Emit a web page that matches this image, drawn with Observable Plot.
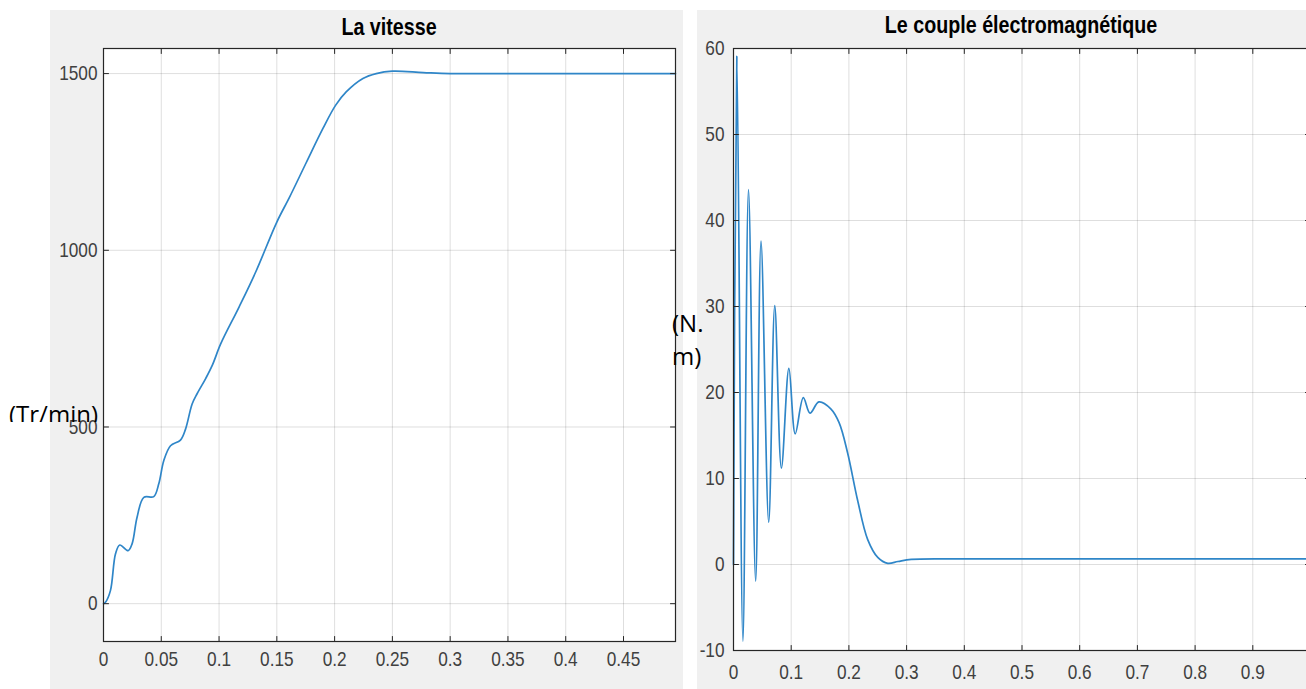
<!DOCTYPE html>
<html>
<head>
<meta charset="utf-8">
<script src="https://cdn.jsdelivr.net/npm/d3@7"></script>
<script src="https://cdn.jsdelivr.net/npm/@observablehq/plot@0.6"></script>
<style>
  html, body { margin: 0; padding: 0; background: #ffffff; overflow: hidden; width: 1306px; height: 689px; }
  .panel { position: absolute; top: 10px; }
  .panel svg { max-width: none !important; }
  .title { position: absolute; font-family: "Liberation Sans", Arial, sans-serif; font-weight: bold; font-size: 24px; color: #000; white-space: nowrap; transform: translateX(-50%) scaleX(0.82); z-index: 3; }
  .ylab { position: absolute; font-family: "Open Sans", "Liberation Sans", sans-serif; font-size: 24px; color: #000; white-space: nowrap; z-index: 4; }
</style>
</head>
<body>
<div id="left" class="panel" style="left:50px;"></div>
<div id="right" class="panel" style="left:697px;"></div>
<div class="title" style="left:389px; top:13px;">La vitesse</div>
<div class="title" style="left:1021px; top:11px;">Le couple électromagnétique</div>
<div class="ylab" style="left:9px; top:397px; height:25px; overflow:hidden; line-height:33px;">(Tr/min)</div>
<div class="ylab" style="left:672px; top:306px; line-height:33px;">(N.<br>m)</div>
<script>
// ---- Data: speed (Tr/min) vs time (s)
const speedT = [0, 0.0017, 0.006, 0.0104, 0.0141, 0.0213, 0.0248, 0.029, 0.0349, 0.0435, 0.0479, 0.0522, 0.058, 0.0666, 0.071, 0.0767, 0.081, 0.0884, 0.0942, 0.1014, 0.1174, 0.1319, 0.15, 0.1608, 0.1753, 0.1898, 0.2008, 0.21, 0.2245, 0.236, 0.25, 0.2767, 0.30, 0.35, 0.40, 0.45, 0.495];
const speed  = [0, 4, 37, 141, 166, 150, 170, 244, 301, 303, 340, 405, 447, 463, 494, 565, 594, 637, 675, 735, 840, 940, 1080, 1149, 1247, 1344, 1410, 1448, 1486, 1500, 1507, 1503, 1500, 1500, 1500, 1500, 1500];

// ---- Data: electromagnetic torque (N.m) vs time (s)
const torqueT = [0, 0.0058, 0.0163, 0.026, 0.0384, 0.0477, 0.061, 0.0715, 0.083, 0.096, 0.107, 0.121, 0.1326, 0.148, 0.1686, 0.183, 0.1977, 0.215, 0.2326, 0.25, 0.2674, 0.285, 0.308, 0.4, 0.6, 0.8, 1.0];
const torque  = [0, 59.1, -8.9, 43.6, -1.95, 37.6, 4.9, 30.1, 11.2, 22.8, 15.2, 19.4, 17.6, 18.9, 18.1, 16.5, 13.0, 7.5, 2.9, 0.83, 0.14, 0.35, 0.6, 0.65, 0.65, 0.65, 0.65];

// ---- Tick labels
const leftXTicks  = [0, 0.05, 0.1, 0.15, 0.2, 0.25, 0.3, 0.35, 0.4, 0.45];
const leftYTicks  = [0, 500, 1000, 1500];
const rightXTicks = [0, 0.1, 0.2, 0.3, 0.4, 0.5, 0.6, 0.7, 0.8, 0.9, 1];
const rightYTicks = [-10, 0, 10, 20, 30, 40, 50, 60];

const speedData  = speedT.map((t, i) => ({t, v: speed[i]}));
const torqueData = torqueT.map((t, i) => ({t, v: torque[i]}));

const tickShape = {draw(ctx, l) { ctx.moveTo(0, 0); ctx.lineTo(0, -l); }};
const fmt = d => String(d);
const frameColor = "#262626";
const lineColor = "#2f86c8";

function inwardTicks(xt, yt) {
  const o = {length: 5, anchor: "start", shape: tickShape, stroke: frameColor, strokeWidth: 1};
  return [
    Plot.vector(xt, {x: d => d, frameAnchor: "bottom", rotate: 0, ...o}),
    Plot.vector(xt, {x: d => d, frameAnchor: "top", rotate: 180, ...o}),
    Plot.vector(yt, {y: d => d, frameAnchor: "left", rotate: 90, ...o}),
    Plot.vector(yt, {y: d => d, frameAnchor: "right", rotate: -90, ...o})
  ];
}

// narrow the tick label glyphs horizontally (MATLAB-like condensed look)
function condense(svg, k) {
  svg.querySelectorAll('g[aria-label$="tick label"] text').forEach(t => {
    const tr = t.getAttribute("transform");
    if (tr) {
      t.setAttribute("transform", tr + ` scale(${k},1)`);
    } else {
      const x = +(t.getAttribute("x") || 0), y = +(t.getAttribute("y") || 0);
      t.setAttribute("x", 0); t.setAttribute("y", 0);
      t.setAttribute("transform", `translate(${x},${y}) scale(${k},1)`);
    }
  });
  return svg;
}

const axisFont = {fontFamily: "'Liberation Sans', Arial, sans-serif", fontSize: "21px"};

const left = Plot.plot({
  width: 633, height: 679,
  marginLeft: 53, marginRight: 8, marginTop: 38, marginBottom: 48,
  style: {background: "#f0f0f0", color: "#404040", maxWidth: "none", ...axisFont},
  x: {domain: [0, 0.495]},
  y: {domain: [-107, 1571]},
  marks: [
    Plot.frame({fill: "white", stroke: null}),
    Plot.gridX(leftXTicks, {stroke: "#000", strokeOpacity: 0.13}),
    Plot.gridY(leftYTicks, {stroke: "#000", strokeOpacity: 0.13}),
    Plot.line(speedData, {x: "t", y: "v", stroke: lineColor, strokeWidth: 1.7, curve: "catmull-rom"}),
    Plot.frame({stroke: frameColor, strokeWidth: 1.2}),
    ...inwardTicks(leftXTicks, leftYTicks),
    Plot.axisX(leftXTicks, {tickSize: 0, tickPadding: 10, tickFormat: fmt, label: null, fill: "#404040"}),
    Plot.axisY(leftYTicks, {tickSize: 0, tickPadding: 6, tickFormat: fmt, label: null, fill: "#404040"})
  ]
});
document.getElementById("left").appendChild(condense(left, 0.82));

const rightWrap = document.getElementById("right");
rightWrap.style.width = "609px";
rightWrap.style.height = "679px";
rightWrap.style.overflow = "hidden";
const right = Plot.plot({
  width: 622, height: 679,
  marginLeft: 36, marginRight: 9, marginTop: 38, marginBottom: 39,
  style: {background: "#f0f0f0", color: "#404040", maxWidth: "none", ...axisFont},
  x: {domain: [0, 1]},
  y: {domain: [-10, 60]},
  marks: [
    Plot.frame({fill: "white", stroke: null}),
    Plot.gridX(rightXTicks, {stroke: "#000", strokeOpacity: 0.13}),
    Plot.gridY(rightYTicks, {stroke: "#000", strokeOpacity: 0.13}),
    Plot.line(torqueData, {x: "t", y: "v", stroke: lineColor, strokeWidth: 1.7, curve: "catmull-rom"}),
    Plot.frame({stroke: frameColor, strokeWidth: 1.2}),
    ...inwardTicks(rightXTicks, rightYTicks),
    Plot.axisX(rightXTicks, {tickSize: 0, tickPadding: 14, tickFormat: fmt, label: null, fill: "#404040"}),
    Plot.axisY(rightYTicks, {tickSize: 0, tickPadding: 9, tickFormat: fmt, label: null, fill: "#404040"})
  ]
});
rightWrap.appendChild(condense(right, 0.82));
</script>
</body>
</html>
